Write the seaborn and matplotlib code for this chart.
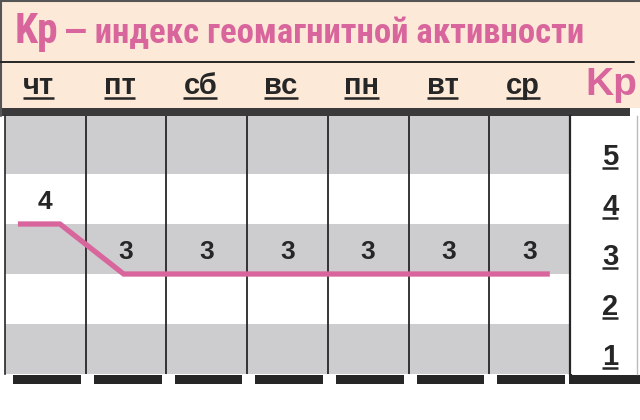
import numpy as np
import pandas as pd
import seaborn as sns
import matplotlib.pyplot as plt
from matplotlib.patches import Rectangle
import matplotlib.transforms as mtransforms

# data
days = ['чт', 'пт', 'сб', 'вс', 'пн', 'вт', 'ср']
kp_values = [4, 3, 3, 3, 3, 3, 3]
kp_levels = [1, 2, 3, 4, 5]
title_kp = 'Kp'
title_rest = '— индекс геомагнитной активности'

PINK = '#d8669c'
GRAY = '#cdcdcf'
PEACH = '#fde9d8'
DARK = '#262626'
WIDE = ['Liberation Sans', 'DejaVu Sans']

sns.set_theme(style='white')
plt.rcParams['font.family'] = ['Roboto Condensed', 'Liberation Sans', 'DejaVu Sans']
plt.rcParams['font.weight'] = 'bold'

W, H = 640, 420
fig = plt.figure(figsize=(6.4, 4.2), dpi=100)
fig.patch.set_facecolor('white')


def box(x0, y0, x1, y1):
    # pixel box with top-left origin -> figure fraction
    return [x0 / W, 1 - y1 / H, (x1 - x0) / W, (y1 - y0) / H]


# background / header in pixel units
bg = fig.add_axes([0, 0, 1, 1])
bg.set_xlim(0, W)
bg.set_ylim(H, 0)
bg.axis('off')
bg.add_patch(Rectangle((0, 0), W, 108, color=PEACH, lw=0))
bg.plot([0, W], [0.8, 0.8], color='#555555', lw=1.5)
bg.plot([0.8, 0.8], [0, 116], color='#555555', lw=1.5)
bg.plot([0, 634], [62, 62], color=DARK, lw=1.4)
bg.add_patch(Rectangle((0, 108), 630, 8, color='#3a3a3a', lw=0))
t_kp = bg.text(15, 43, title_kp, color=PINK, fontsize=30, va='baseline', ha='left')
t_rest = bg.text(67, 43, title_rest, color=PINK, fontsize=20, va='baseline', ha='left')
bg.text(637, 95, title_kp, color=PINK, fontsize=28, va='baseline', ha='right',
        family=WIDE)

# main chart
ax = fig.add_axes(box(5, 116, 570, 374))
ax.set_xlim(0, len(days))
ax.set_ylim(1, 6.16)
for v in kp_levels:
    if v % 2 == 1:
        top = v + 1 if v < max(kp_levels) else ax.get_ylim()[1]
        ax.axhspan(v, top, color=GRAY, lw=0, zorder=0)
for i in range(1, len(days)):
    ax.axvline(i, color=DARK, lw=1.3, zorder=1)
for s in ['top', 'right', 'bottom']:
    ax.spines[s].set_visible(False)
ax.spines['left'].set_color(DARK)
ax.spines['left'].set_linewidth(1.2)
ax.set_xticks([])
ax.set_yticks([])

# line path: hold each day's value, slope into the next
xs, ys = [], []
for i, v in enumerate(kp_values):
    xs += [i + 0.47, i + 0.68]
    ys += [v, v]
xs[0] = 0.16
xs[-1] = len(days) - 0.25
line_df = pd.DataFrame({'x': xs, 'kp': ys})
sns.lineplot(data=line_df, x='x', y='kp', sort=False, color=PINK, lw=3.8,
             solid_capstyle='butt', solid_joinstyle='miter', ax=ax, zorder=3)
ax.set_xlabel('')
ax.set_ylabel('')

for i, v in enumerate(kp_values):
    ax.text(i + 0.5, v + 0.44, str(v), ha='center', va='center',
            fontsize=19, color=DARK, zorder=4, family=WIDE)

# day labels above chart
trans = mtransforms.blended_transform_factory(ax.transData, ax.transAxes)
day_texts = []
for i, d in enumerate(days):
    t = ax.text(i + 0.42, 1.085, d, transform=trans, ha='center', va='baseline',
                fontsize=21, color=DARK, family=WIDE)
    day_texts.append(t)

# bottom black bars
for i in range(len(days)):
    ax.add_patch(Rectangle((i + 0.1, 0.80), 0.84, 0.18, color=DARK, lw=0,
                           clip_on=False))

# Kp scale column
kax = fig.add_axes(box(570, 116, 637, 374))
kax.set_xlim(0, 1)
kax.set_ylim(ax.get_ylim())
kax.set_xticks([])
kax.set_yticks([])
kax.set_facecolor('white')
for s in ['top', 'bottom']:
    kax.spines[s].set_visible(False)
kax.spines['left'].set_color(DARK)
kax.spines['left'].set_linewidth(1.6)
kax.spines['right'].set_color('#bbbbbb')
kax.spines['right'].set_linewidth(1.0)
scale_texts = []
for v in kp_levels:
    t = kax.text(0.6, v + 0.18, str(v), ha='center', va='baseline',
                 fontsize=21, color=DARK, family=WIDE)
    scale_texts.append(t)
bg.add_patch(Rectangle((569, 375), 71, 9, color=DARK, lw=0))
bg.plot([570.5, 570.5], [116, 376], color=DARK, lw=1.6)

# overlay for underlines
over = fig.add_axes([0, 0, 1, 1], zorder=10)
over.set_xlim(0, W)
over.set_ylim(H, 0)
over.axis('off')
over.patch.set_alpha(0)

# fit title text into the header width
fig.canvas.draw()
renderer = fig.canvas.get_renderer()
inv = bg.transData.inverted()
kp_end = inv.transform([[t_kp.get_window_extent(renderer).x1, 0]])[0][0]
t_rest.set_x(kp_end + 5)
bb = t_rest.get_window_extent(renderer)
width = bb.x1 - bb.x0
target = 582 - (kp_end + 5)
t_rest.set_fontsize(20 * target / width)

fig.canvas.draw()
for t in day_texts + scale_texts:
    bb = t.get_window_extent(renderer)
    (x0, y0), (x1, y1) = inv.transform([[bb.x0, bb.y0], [bb.x1, bb.y1]])
    base = t.get_transform().transform(t.get_position())
    yb = inv.transform([base])[0][1]
    over.plot([x0, x1], [yb + 3.5, yb + 3.5], color=DARK, lw=1.8,
              solid_capstyle='butt')

fig.savefig('out.png', dpi=100)
